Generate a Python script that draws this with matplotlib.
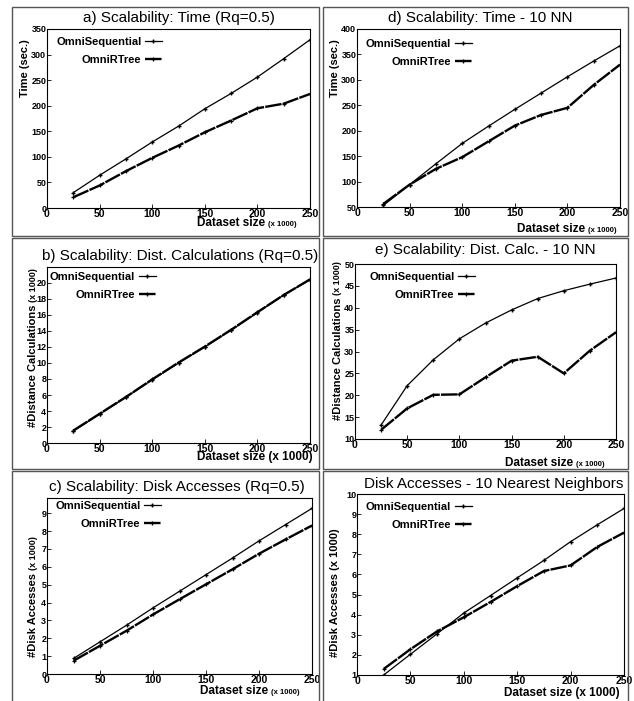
import matplotlib
matplotlib.use("Agg")
import matplotlib.pyplot as plt
from matplotlib.patches import Rectangle

plt.rcParams['font.family'] = ['Liberation Sans', 'DejaVu Sans']

W, H = 634, 701

# data (dataset size in thousands)
sizes = [25, 50, 75, 100, 125, 150, 175, 200, 225, 250]

time_rq_seq = [30, 64, 96, 129, 160, 194, 224, 256, 292, 329]
time_rq_rtree = [21, 44, 72, 98, 122, 148, 171, 195, 204, 223]

time_nn_seq = [53, 94, 135, 175, 209, 242, 274, 306, 337, 367]
time_nn_rtree = [56, 94, 125, 148, 179, 210, 231, 245, 290, 330]

dist_rq_seq = [1.5, 3.6, 5.7, 7.9, 10.0, 12.0, 14.1, 16.3, 18.5, 20.4]
dist_rq_rtree = [1.55, 3.65, 5.75, 7.95, 10.05, 12.05, 14.15, 16.35, 18.5, 20.45]

dist_nn_seq = [13.2, 22.2, 28.1, 32.9, 36.5, 39.5, 42.1, 43.9, 45.4, 46.8]
dist_nn_rtree = [12.1, 17.0, 20.1, 20.2, 24.1, 27.9, 28.8, 25.0, 30.2, 34.4]

disk_rq_seq = [0.87, 1.8, 2.73, 3.7, 4.63, 5.56, 6.49, 7.45, 8.36, 9.27]
disk_rq_rtree = [0.74, 1.58, 2.42, 3.33, 4.18, 5.02, 5.86, 6.73, 7.53, 8.31]

disk_nn_seq = [1.0, 2.03, 3.05, 4.08, 4.95, 5.83, 6.7, 7.63, 8.47, 9.28]
disk_nn_rtree = [1.3, 2.28, 3.17, 3.87, 4.63, 5.42, 6.17, 6.45, 7.37, 8.08]

fig = plt.figure(figsize=(W / 100, H / 100), dpi=100)


def fx(px):
    return px / W


def fy(py):
    return 1 - py / H


# panel frames
for l, t, r, b in [(12, 7, 319, 236), (323, 7, 628, 236),
                   (12, 238, 319, 469), (323, 238, 628, 469),
                   (12, 471, 319, 710), (323, 471, 628, 710)]:
    fig.patches.append(Rectangle((fx(l), fy(b)), (r - l) / W, (b - t) / H,
                                 transform=fig.transFigure, fill=False,
                                 ec='#555555', lw=1.0))


def panel(box, seq, rtree, ylim, yticks, title, title_pos, leg_pos,
          xlab_pos, xlab_split, ylab_pos, ylab_main, ylab_small):
    l, t, r, b = box
    ax = fig.add_axes([fx(l), fy(b), (r - l) / W, (b - t) / H])
    ax.plot(sizes, seq, color='black', lw=0.9, marker='+', ms=3.5, mew=1.0,
            label='OmniSequential')
    ax.plot(sizes, rtree, color='black', lw=1.7, dashes=(7, 0.5), marker='+',
            ms=3, mew=0.9, label='OmniRTree')
    ax.set_xlim(0, 250)
    ax.set_ylim(*ylim)
    ax.set_xticks([0, 50, 100, 150, 200, 250])
    ax.set_yticks(yticks)
    ax.tick_params(direction='in', length=3, width=0.6, pad=1)
    ax.tick_params(axis='x', labelsize=7.5)
    ax.tick_params(axis='y', labelsize=6.5, pad=0.5)
    for lab in ax.get_xticklabels() + ax.get_yticklabels():
        lab.set_fontweight('bold')
    for s in ax.spines.values():
        s.set_linewidth(0.8)

    fig.text(fx(title_pos[0]), fy(title_pos[1]), title, ha='center',
             va='center', fontsize=11)

    ax.legend(loc='upper left', bbox_to_anchor=(fx(leg_pos[0]), fy(leg_pos[1])),
              bbox_transform=fig.transFigure, frameon=False, markerfirst=False,
              numpoints=1, handlelength=1.6, handletextpad=0.3,
              labelspacing=0.7, borderaxespad=0, borderpad=0,
              prop={'weight': 'bold', 'size': 8})

    # x label
    if xlab_split:
        t1 = fig.text(fx(xlab_pos[0]), fy(xlab_pos[1]), 'Dataset size',
                      ha='left', va='center', fontsize=8.5, fontweight='bold')
        ax.annotate('(x 1000)', xy=(1, 0.4), xycoords=t1, xytext=(2, 0),
                    textcoords='offset points', ha='left', va='center',
                    fontsize=5.5, fontweight='bold')
    else:
        fig.text(fx(xlab_pos[0]), fy(xlab_pos[1]), 'Dataset size (x 1000)',
                 ha='left', va='center', fontsize=8.5, fontweight='bold')

    # y label
    y1 = fig.text(fx(ylab_pos[0]), fy(ylab_pos[1]), ylab_main, ha='center',
                  va='bottom', rotation=90, fontsize=8, fontweight='bold')
    if ylab_small:
        ax.annotate(ylab_small, xy=(0.5, 1), xycoords=y1, xytext=(0, 2),
                    textcoords='offset points', ha='center', va='bottom',
                    rotation=90, fontsize=6.5, fontweight='bold')
    return ax


panel((47, 29, 310, 208), time_rq_seq, time_rq_rtree, (0, 350),
      range(0, 351, 50), 'a) Scalability: Time (Rq=0.5)', (179, 18),
      (56, 37), (197, 223), True, (25, 97), 'Time (sec.)', None)

panel((357, 29, 620, 207), time_nn_seq, time_nn_rtree, (50, 400),
      range(50, 401, 50), 'd) Scalability: Time - 10 NN', (480, 18),
      (366, 39), (517, 229), True, (335, 97), 'Time (sec.)', None)

panel((47, 267, 310, 443), dist_rq_seq, dist_rq_rtree, (0, 22),
      range(0, 21, 2), 'b) Scalability: Dist. Calculations (Rq=0.5)', (180, 256),
      (50, 272), (197, 457), False, (33, 427), '#Distance Calculations',
      '(x 1000)')

panel((355, 264, 616, 439), dist_nn_seq, dist_nn_rtree, (10, 50),
      range(10, 51, 5), 'e) Scalability: Dist. Calc. - 10 NN', (485, 250),
      (369, 272), (505, 463), True, (338, 420), '#Distance Calculations',
      '(x 1000)')

panel((47, 498, 312, 674), disk_rq_seq, disk_rq_rtree, (0, 9.85),
      range(0, 10), 'c) Scalability: Disk Accesses (Rq=0.5)', (177, 487),
      (55, 501), (200, 691), True, (33, 657), '#Disk Accesses', '(x 1000)')

panel((357, 494, 624, 675), disk_nn_seq, disk_nn_rtree, (1, 10),
      range(1, 11), 'Disk Accesses - 10 Nearest Neighbors', (494, 484),
      (366, 502), (504, 693), False, (335, 657), '#Disk Accesses (x 1000)',
      None)

fig.savefig('out.png', dpi=100)
